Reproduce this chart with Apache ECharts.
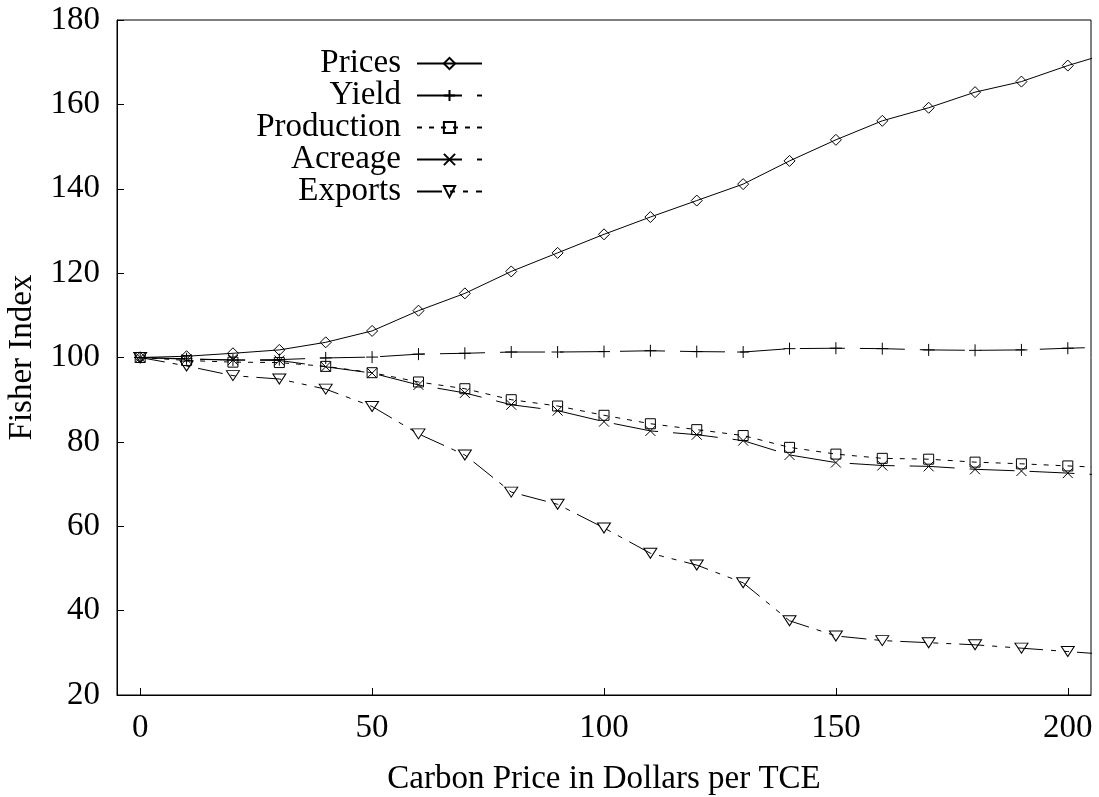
<!DOCTYPE html>
<html>
<head>
<meta charset="utf-8">
<script src="https://cdn.jsdelivr.net/npm/echarts@6/dist/echarts.min.js"></script>
<style>
html,body{margin:0;padding:0;background:#fff;}
#chart{width:1099px;height:797px;}
</style>
</head>
<body>
<div id="chart"></div>
<script>
// Carbon price (x) values; the last point lies just beyond the axis edge and is clipped
const carbonPrice = [0,10,20,30,40,50,60,70,80,90,100,110,120,130,140,150,160,170,180,190,200,210];
const prices     = [100,100.3,101.0,101.8,103.6,106.3,111.1,115.2,120.4,124.8,129.2,133.3,137.2,141.1,146.6,151.6,156.1,159.2,162.9,165.4,169.2,172.5];
const yieldIdx   = [100,99.7,99.4,99.5,99.9,100.1,100.8,101.0,101.3,101.3,101.4,101.6,101.4,101.3,102.1,102.2,102.1,101.8,101.7,101.8,102.2,102.5];
const production = [100,99.3,98.9,98.8,97.9,96.4,94.2,92.6,90.0,88.5,86.3,84.3,82.9,81.5,78.7,77.1,76.1,75.9,75.2,74.8,74.3,73.8];
const acreage    = [100,99.6,99.4,99.3,97.8,96.3,93.5,91.6,88.8,87.4,84.8,82.6,81.7,80.3,76.9,75.1,74.4,74.2,73.5,73.1,72.6,72.0];
const exportsIdx = [100,98.0,95.7,94.9,92.5,88.4,81.9,76.9,68.1,65.2,59.6,53.6,50.8,46.6,37.6,34.0,32.9,32.4,31.9,31.1,30.3,29.5];
const xTicks = [0,50,100,150,200];
const seriesNames = ['Prices','Yield','Production','Acreage','Exports'];

const FONT = 'Liberation Serif';
const FS = 33;
const pairs = arr => carbonPrice.map((x, i) => [x, arr[i]]);

const markerStyle = {color: 'none', borderColor: '#000', borderWidth: 1};
function mk(name, data, symbol, size, dash, rotate) {
  return {
    name, type: 'line', data: pairs(data),
    symbol, symbolSize: size, symbolRotate: rotate || 0,
    showSymbol: true, clip: true, animation: false,
    itemStyle: markerStyle,
    lineStyle: {color: '#000', width: 1, type: dash},
    emphasis: {disabled: true}
  };
}

const chart = echarts.init(document.getElementById('chart'), null, {renderer: 'canvas'});
chart.setOption({
  backgroundColor: '#fff',
  animation: false,
  grid: {left: 117, right: 8, top: 20, bottom: 102, show: true, borderColor: '#000', borderWidth: 1,
         containLabel: false, outerBoundsMode: 'none'},
  legend: {
    orient: 'vertical', align: 'right', right: 616, top: 47, padding: 0,
    itemWidth: 65, itemHeight: 14, itemGap: -1,
    textStyle: {fontFamily: FONT, fontSize: FS, color: '#000', lineHeight: 32, padding: [0, 11, 0, 0]},
    data: seriesNames
  },
  xAxis: {
    type: 'value', min: -5, max: 205,
    name: 'Carbon Price in Dollars per TCE', nameLocation: 'middle', nameGap: 68,
    nameTextStyle: {fontFamily: FONT, fontSize: FS, color: '#000'},
    axisLine: {show: true, onZero: false, lineStyle: {color: '#000', width: 1}},
    axisTick: {show: true, inside: true, length: 7, customValues: xTicks, lineStyle: {color: '#000'}},
    axisLabel: {customValues: xTicks, fontFamily: FONT, fontSize: FS, color: '#000', margin: 17},
    splitLine: {show: false}
  },
  yAxis: {
    type: 'value', min: 20, max: 180, interval: 20,
    name: 'Fisher Index', nameLocation: 'middle', nameGap: 78,
    nameTextStyle: {fontFamily: FONT, fontSize: FS, color: '#000'},
    axisLine: {show: true, onZero: false, lineStyle: {color: '#000', width: 1}},
    axisTick: {show: true, inside: true, length: 7, lineStyle: {color: '#000'}},
    axisLabel: {fontFamily: FONT, fontSize: FS, color: '#000', margin: 17},
    splitLine: {show: false}
  },
  series: [
    mk('Prices', prices, 'diamond', 11, 'solid'),
    mk('Yield', yieldIdx, 'path://M0,6L12,6M6,0L6,12', 12, [45, 15]),
    mk('Production', production, 'rect', 10, [5, 7]),
    mk('Acreage', acreage, 'path://M0,0L10,10M10,0L0,10', 10, [45, 15]),
    mk('Exports', exportsIdx, 'triangle', [13, 10], [25, 8, 5, 8, 5, 8], 180)
  ]
});
</script>
</body>
</html>
